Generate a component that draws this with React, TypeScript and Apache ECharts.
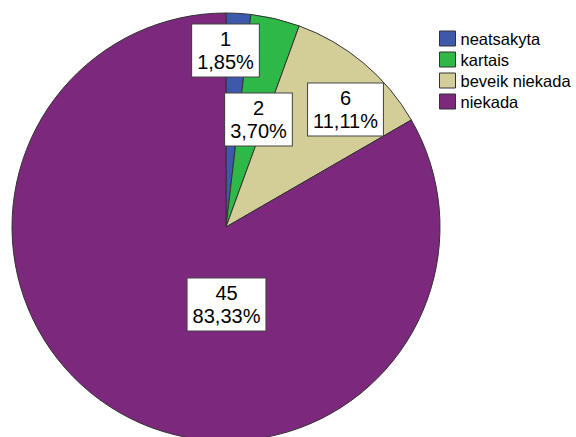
import React, { useEffect, useRef } from "react";
import * as echarts from "echarts";

const categories = ["neatsakyta", "kartais", "beveik niekada", "niekada"];
const counts = [1, 2, 6, 45];
const colors = ["#3E58AC", "#2EB848", "#D3CE97", "#7C287D"];
// label box centres relative to the pie centre (px)
const labelOffsets = [
  [-0.5, -176.5],
  [32.5, -107.5],
  [119.5, -117.5],
  [0.5, 77.5],
];

const CX = 226;
const CY = 227;
const R = 214;

export default function App() {
  const ref = useRef<HTMLDivElement>(null);
  useEffect(() => {
    document.body.style.margin = "0";
    const chart = echarts.init(ref.current!, null, { renderer: "svg" });
    const total = counts.reduce((a, b) => a + b, 0);
    chart.setOption({
      animation: false,
      backgroundColor: "#ffffff",
      legend: {
        orient: "vertical",
        left: 439,
        top: 30,
        padding: 0,
        itemWidth: 16,
        itemHeight: 15,
        itemGap: 4,
        icon: "rect",
        itemStyle: { borderColor: "#333", borderWidth: 1 },
        textStyle: {
          fontFamily: "Liberation Sans",
          fontSize: 16.5,
          lineHeight: 15,
          color: "#000",
        },
        data: categories,
      },
      series: [
        {
          type: "pie",
          center: [CX, CY],
          radius: R,
          startAngle: 90,
          clockwise: true,
          avoidLabelOverlap: false,
          itemStyle: { borderColor: "#333", borderWidth: 1 },
          emphasis: { disabled: true },
          labelLine: { show: false },
          label: {
            show: true,
            position: "inside",
            formatter: (p: any) =>
              `${p.value}\n${((p.value / total) * 100).toFixed(2).replace(".", ",")}%`,
            fontFamily: "Liberation Sans",
            fontSize: 20,
            lineHeight: 23,
            color: "#000",
            backgroundColor: "#fff",
            borderColor: "#444",
            borderWidth: 1,
            padding: [3, 5, 3, 5],
            align: "center",
            verticalAlign: "middle",
          },
          labelLayout: (params: any) => {
            const o = labelOffsets[params.dataIndex];
            return {
              x: CX + o[0],
              y: CY + o[1],
              align: "center",
              verticalAlign: "middle",
            };
          },
          data: categories.map((name, i) => ({
            name,
            value: counts[i],
            itemStyle: { color: colors[i] },
          })),
        },
      ],
    });
    return () => chart.dispose();
  }, []);
  return (
    <div
      ref={ref}
      style={{ position: "absolute", left: 0, top: 0, width: 576, height: 437 }}
    />
  );
}
